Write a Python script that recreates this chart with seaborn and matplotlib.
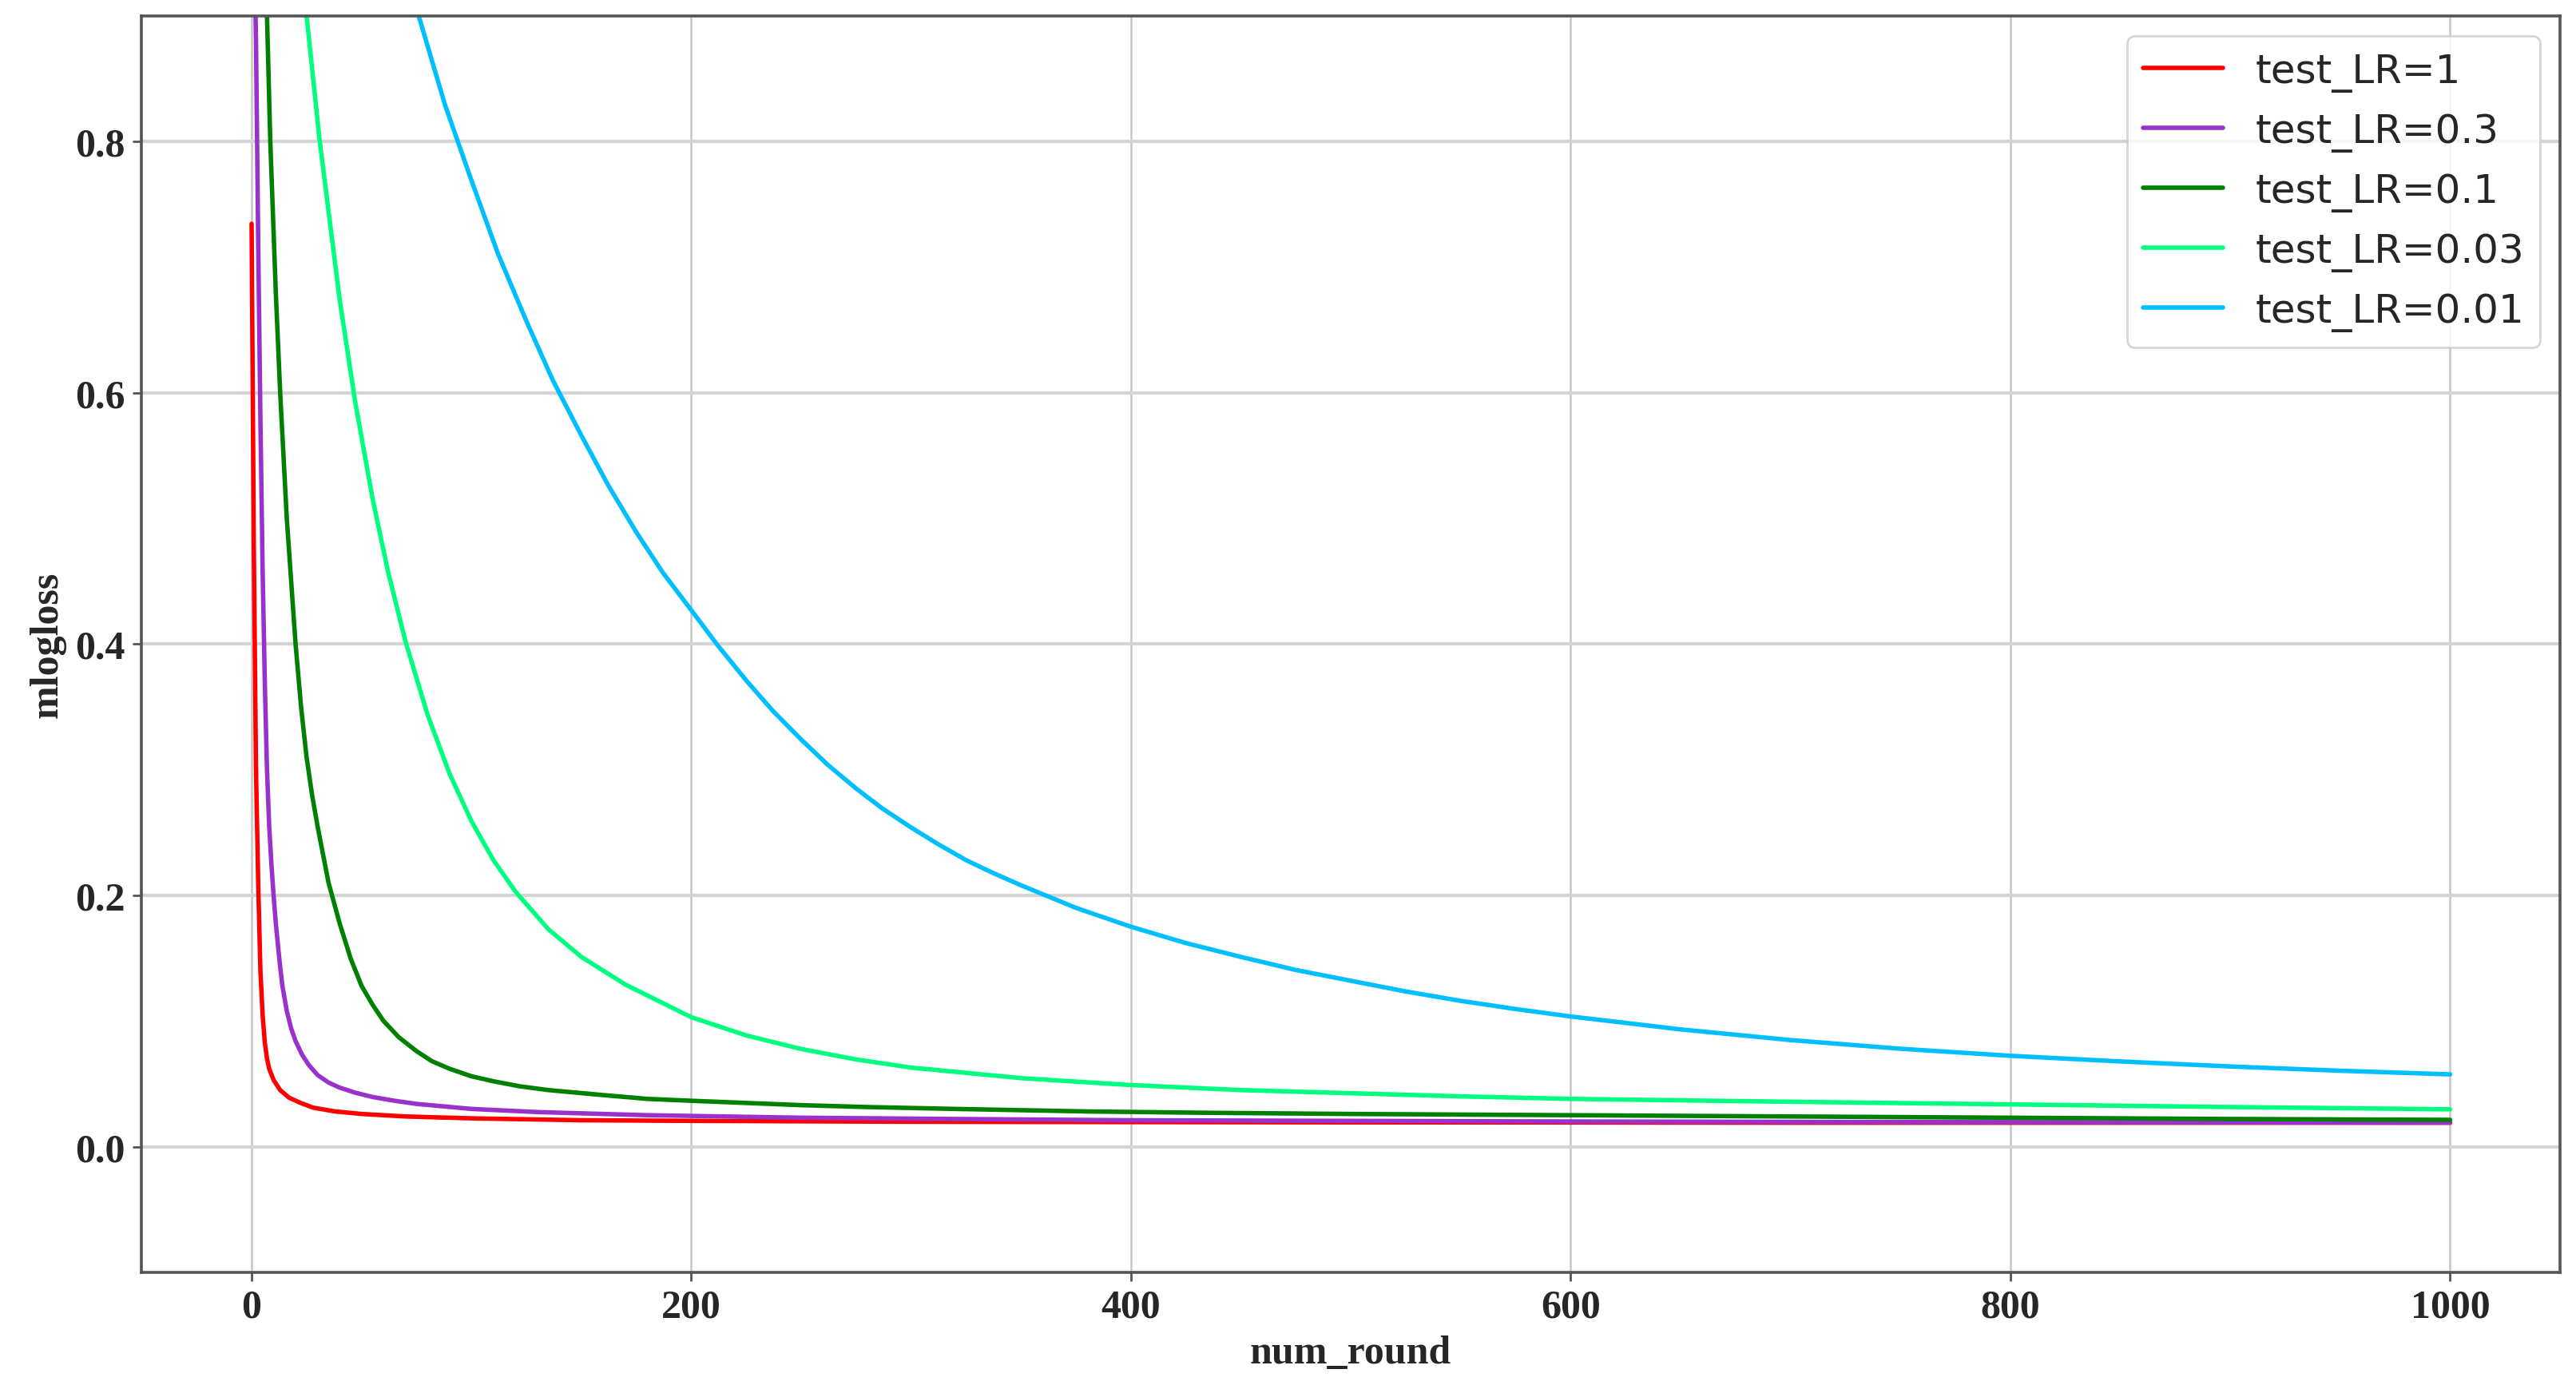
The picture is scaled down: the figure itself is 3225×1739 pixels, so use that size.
#!/usr/bin/env python3
# mlogloss vs. num_round for five learning rates (test set)

import pandas as pd
import seaborn as sns
import matplotlib.pyplot as plt

# values (points above 0.9 are only there to
# give the clipped curves their direction at the top edge)
rounds_lr1 = [0, 1, 2, 3, 4, 5, 6, 7, 8, 10, 13, 17, 22, 28, 38, 50, 70, 100,
              150, 200, 300, 400, 500, 600, 700, 800, 900, 1000]
loss_lr1 = [0.7345, 0.48, 0.30, 0.21, 0.14, 0.105, 0.083, 0.070, 0.062, 0.053,
            0.045, 0.039, 0.035, 0.031, 0.028, 0.026, 0.024, 0.0225, 0.021,
            0.0205, 0.0198, 0.0195, 0.0193, 0.0192, 0.019, 0.019, 0.019, 0.019]

rounds_lr03 = [0, 1, 2, 3, 4, 5, 6, 7, 8, 9, 10, 11, 12, 13, 14, 16, 18, 20,
               23, 26, 30, 35, 40, 47, 55, 65, 75, 100, 130, 180, 250, 320,
               400, 500, 600, 700, 800, 900, 1000]
loss_lr03 = [1.10, 0.98, 0.88, 0.72, 0.58, 0.46, 0.37, 0.30, 0.255, 0.225,
             0.20, 0.178, 0.16, 0.143, 0.128, 0.108, 0.094, 0.084, 0.073,
             0.065, 0.057, 0.051, 0.047, 0.043, 0.0395, 0.0365, 0.034, 0.030,
             0.0275, 0.025, 0.023, 0.022, 0.021, 0.0205, 0.020, 0.0197,
             0.0195, 0.0193, 0.0192]

rounds_lr01 = [0, 3, 5.5, 7, 8.5, 11, 13, 16, 18, 20, 22.5, 25, 27.5, 30, 35,
               40, 45, 50, 55, 60, 67, 75, 82, 90, 100, 110, 122, 135, 160,
               180, 200, 250, 280, 320, 380, 430, 500, 600, 700, 800, 900, 1000]
loss_lr01 = [1.25, 1.08, 1.00, 0.90, 0.80, 0.68, 0.60, 0.50, 0.45, 0.40, 0.35,
             0.31, 0.28, 0.255, 0.21, 0.178, 0.15, 0.128, 0.113, 0.100, 0.087,
             0.076, 0.068, 0.062, 0.056, 0.052, 0.048, 0.045, 0.041, 0.038,
             0.0365, 0.033, 0.0315, 0.030, 0.028, 0.027, 0.026, 0.025, 0.024,
             0.023, 0.022, 0.0213]

rounds_lr003 = [0, 10, 18, 25, 31, 40, 47, 55, 62, 70, 80, 90, 100, 110, 120,
                135, 150, 170, 200, 225, 250, 275, 300, 350, 400, 450, 500,
                550, 600, 700, 800, 900, 1000]
loss_lr003 = [1.10, 1.06, 1.00, 0.90, 0.80, 0.675, 0.594, 0.516, 0.458, 0.402,
              0.344, 0.297, 0.259, 0.228, 0.203, 0.173, 0.151, 0.129, 0.103,
              0.0885, 0.0777, 0.0694, 0.0629, 0.0545, 0.049, 0.045, 0.0425,
              0.040, 0.038, 0.0357, 0.0336, 0.0315, 0.0297]

rounds_lr001 = [0, 40, 60, 76, 88, 100, 112, 125, 137, 150, 162, 175, 187,
                200, 212, 225, 237, 250, 262, 275, 287, 300, 312, 325, 337,
                350, 375, 400, 425, 450, 475, 500, 525, 550, 575, 600, 650,
                700, 750, 800, 850, 900, 950, 1000]
loss_lr001 = [1.10, 1.05, 1.00, 0.90, 0.829, 0.769, 0.711, 0.657, 0.610,
              0.566, 0.527, 0.489, 0.457, 0.427, 0.399, 0.371, 0.347, 0.324,
              0.304, 0.285, 0.269, 0.254, 0.241, 0.228, 0.218, 0.208, 0.190,
              0.175, 0.162, 0.151, 0.1406, 0.132, 0.1235, 0.116, 0.1095,
              0.1036, 0.0933, 0.0848, 0.0779, 0.0723, 0.0678, 0.0638, 0.0604,
              0.0575]

labels = ['test_LR=1', 'test_LR=0.3', 'test_LR=0.1', 'test_LR=0.03',
          'test_LR=0.01']
colors = ['red', 'darkorchid', 'green', 'springgreen', 'deepskyblue']


def prepare_data():
    series = [(rounds_lr1, loss_lr1), (rounds_lr03, loss_lr03),
              (rounds_lr01, loss_lr01), (rounds_lr003, loss_lr003),
              (rounds_lr001, loss_lr001)]
    frames = []
    for (x, y), label in zip(series, labels):
        frames.append(pd.DataFrame({'num_round': x, 'mlogloss': y,
                                    'run': label}))
    return pd.concat(frames, ignore_index=True)


def create_plot(data, output):
    sns.set_style('whitegrid')
    plt.rcParams['font.family'] = ['Liberation Serif', 'DejaVu Serif']
    plt.rcParams['font.weight'] = 'bold'

    fig, ax = plt.subplots(figsize=(16.125, 8.7), dpi=200)
    fig.subplots_adjust(left=0.055, right=0.9938, top=0.988, bottom=0.084)

    sns.lineplot(data=data, x='num_round', y='mlogloss', hue='run',
                 hue_order=labels, palette=dict(zip(labels, colors)),
                 estimator=None, sort=False, linewidth=2.0, ax=ax)

    ax.set_xlim(-50, 1050)
    ax.set_ylim(-0.1, 0.9)
    ax.set_xticks([0, 200, 400, 600, 800, 1000])
    ax.set_yticks([0.0, 0.2, 0.4, 0.6, 0.8])
    ax.set_yticklabels(['0.0', '0.2', '0.4', '0.6', '0.8'])

    ax.xaxis.grid(True, color='#c6c6c6', linewidth=0.9)
    ax.yaxis.grid(True, color='#d4d4d4', linewidth=1.5)
    for side in ax.spines.values():
        side.set_color('#555555')
        side.set_linewidth(1.3)

    ax.tick_params(axis='both', which='major', labelsize=18, length=4,
                   width=1.0, color='#555555', bottom=True, left=True)
    ax.set_xlabel('num_round', fontsize=18, fontweight='bold')
    ax.set_ylabel('mlogloss', fontsize=18, fontweight='bold')

    leg = ax.legend(loc='upper right', title=None, frameon=True, fancybox=True,
                    prop={'family': 'DejaVu Sans', 'weight': 'normal',
                          'size': 18})
    leg.get_frame().set_edgecolor('#cccccc')
    leg.get_frame().set_linewidth(1.0)

    fig.savefig(output, dpi=200)


if __name__ == '__main__':
    data = prepare_data()
    create_plot(data, 'out.png')
